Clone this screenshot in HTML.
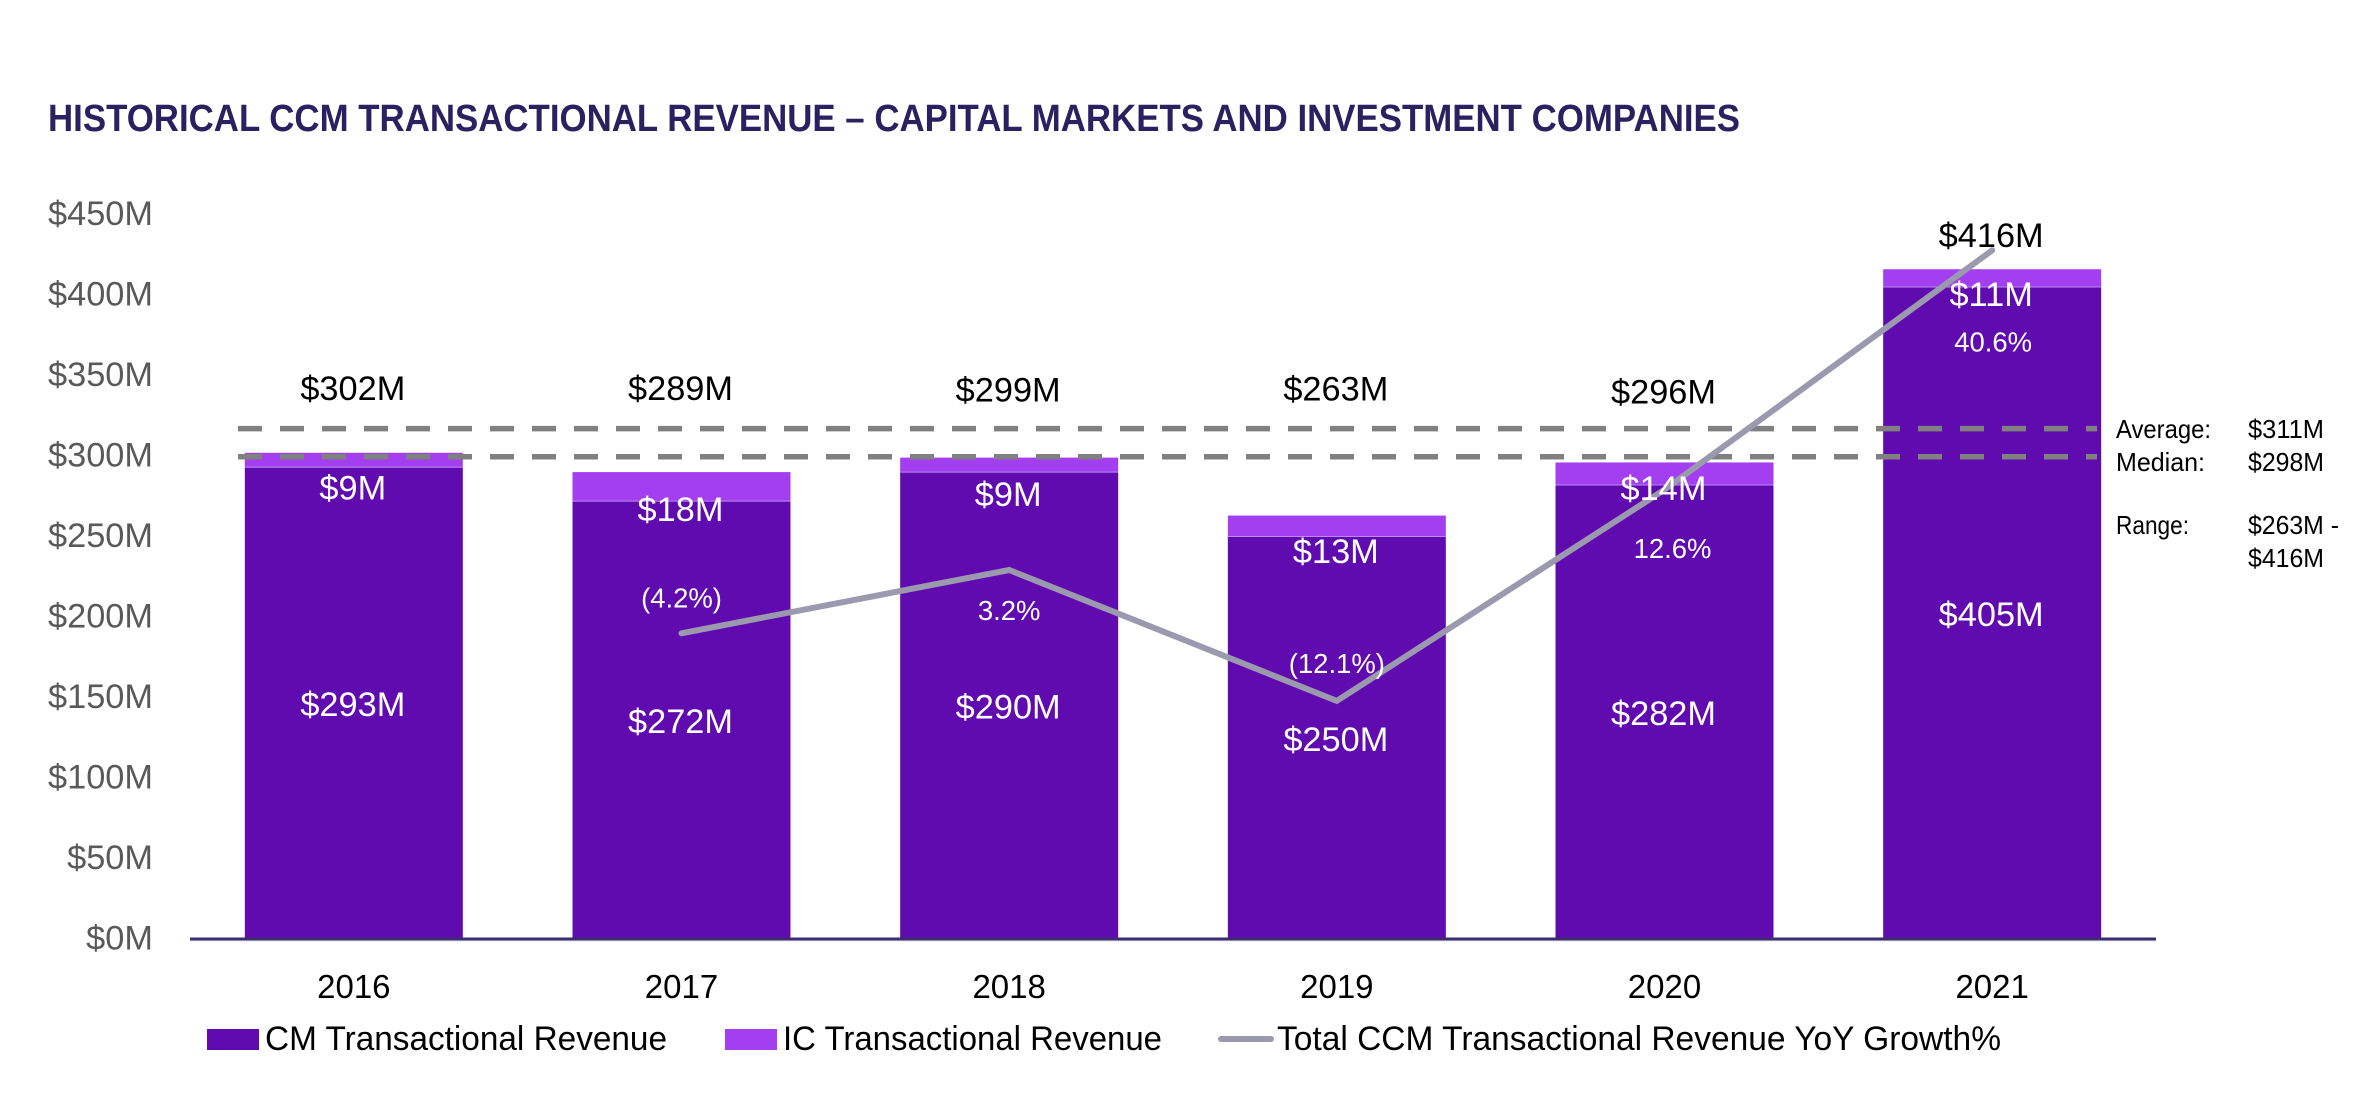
<!DOCTYPE html>
<html lang="en">
<head>
<meta charset="utf-8">
<title>Historical CCM Transactional Revenue</title>
<style>
html,body{margin:0;padding:0;background:#fff;width:2364px;height:1116px;overflow:hidden}
svg{display:block;font-family:"Liberation Sans",sans-serif}
</style>
</head>
<body>
<svg id="chart" xmlns="http://www.w3.org/2000/svg" width="2364" height="1116" viewBox="0 0 2364 1116">
  <rect x="0" y="0" width="2364" height="1116" fill="#ffffff"/>
  <text x="48" y="131" font-size="38" font-weight="700" fill="#2b2060" textLength="1692" lengthAdjust="spacingAndGlyphs">HISTORICAL CCM TRANSACTIONAL REVENUE – CAPITAL MARKETS AND INVESTMENT COMPANIES</text>
  <g id="marks"></g>
  <g font-size="26" fill="#000000">
    <text x="2116" y="438" textLength="95" lengthAdjust="spacingAndGlyphs">Average:</text>
    <text x="2248" y="438" textLength="76" lengthAdjust="spacingAndGlyphs">$311M</text>
    <text x="2116" y="471" textLength="89" lengthAdjust="spacingAndGlyphs">Median:</text>
    <text x="2248" y="471" textLength="76" lengthAdjust="spacingAndGlyphs">$298M</text>
    <text x="2116" y="534" textLength="73" lengthAdjust="spacingAndGlyphs">Range:</text>
    <text x="2248" y="534" textLength="91" lengthAdjust="spacingAndGlyphs">$263M -</text>
    <text x="2248" y="567" textLength="76" lengthAdjust="spacingAndGlyphs">$416M</text>
  </g>
  <g>
    <rect x="207" y="1029" width="52" height="21" fill="#600bb0"/>
    <text x="265" y="1050" font-size="34" fill="#000" textLength="402" lengthAdjust="spacingAndGlyphs">CM Transactional Revenue</text>
    <rect x="725" y="1029" width="52" height="21" fill="#a33ff0"/>
    <text x="783" y="1050" font-size="34" fill="#000" textLength="379" lengthAdjust="spacingAndGlyphs">IC Transactional Revenue</text>
    <line x1="1221" y1="1039" x2="1271" y2="1039" stroke="#9a99ae" stroke-width="6" stroke-linecap="round"/>
    <text x="1277" y="1050" font-size="34" fill="#000" textLength="724" lengthAdjust="spacingAndGlyphs">Total CCM Transactional Revenue YoY Growth%</text>
  </g>
</svg>
<script>
const years = ['2016', '2017', '2018', '2019', '2020', '2021'];
const cmRevenue = [293, 272, 290, 250, 282, 405];
const icRevenue = [9, 18, 9, 13, 14, 11];
const totalRevenue = [302, 289, 299, 263, 296, 416];
const yoyGrowth = [null, -4.2, 3.2, -12.1, 12.6, 40.6];
const yTicks = [0, 50, 100, 150, 200, 250, 300, 350, 400, 450];
const referenceLevels = [317, 299.5];

const NS = 'http://www.w3.org/2000/svg';
const marks = document.getElementById('marks');
const AX_LEFT = 190, AX_RIGHT = 2156, BASE = 939, PX_PER_M = 1.61;
const BAR_W = 218;
const GROWTH_ZERO = 597.4, PX_PER_PT = 8.55;

const xCenter = i => AX_LEFT + (AX_RIGHT - AX_LEFT) / years.length * (i + 0.5);
const yRev = v => BASE - v * PX_PER_M;
const yGrowth = v => GROWTH_ZERO - v * PX_PER_PT;
const money = v => '$' + v + 'M';
const pct = v => v < 0 ? '(' + Math.abs(v).toFixed(1) + '%)' : v.toFixed(1) + '%';

// hand-placed label nudges seen in the source slide
const icLabelNudge = [32, 20, 34, 26.5, 15, 19];
const totalLabelNudge = [-53, -72, -56, -115, -59, -22];
const growthLabelNudge = [0, -26, 50, -28, 68.5, 101];
const growthLabelShift = [0, 0, 0, 0, 8, 1];

function make(tag, props, parent) {
  const el = document.createElementNS(NS, tag);
  for (const k in props) el.setAttribute(k, props[k]);
  (parent || marks).appendChild(el);
  return el;
}
function label(str, x, y, size, fill, anchor, stretch) {
  const t = make('text', { x: x, y: y, 'font-size': size, fill: fill, 'text-anchor': anchor });
  t.textContent = str;
  const w = t.getComputedTextLength();
  t.setAttribute('textLength', (w * stretch).toFixed(1));
  t.setAttribute('lengthAdjust', 'spacingAndGlyphs');
  return t;
}

// y-axis tick labels
yTicks.forEach(v => {
  const t = label(money(v), 153, yRev(v) + 10.5, 34, '#595959', 'end', 1.01);
  
  
});

// stacked bars
years.forEach((yr, i) => {
  const x = xCenter(i) - BAR_W / 2;
  const cmTop = yRev(cmRevenue[i]);
  const icTop = yRev(cmRevenue[i] + icRevenue[i]);
  const cm = make('rect', { x: x, y: cmTop, width: BAR_W, height: BASE - cmTop, fill: '#600bb0' });
  
  
  const ic = make('rect', { x: x, y: icTop, width: BAR_W, height: cmTop - icTop, fill: '#a33ff0' });
  
  
  const sep = make('line', { x1: x, x2: x + BAR_W, y1: cmTop, y2: cmTop, stroke: '#b98af0', 'stroke-width': 1 });
  
  
});

// x axis
const axis = make('line', { x1: AX_LEFT, x2: AX_RIGHT, y1: BASE, y2: BASE, stroke: '#3b2e70', 'stroke-width': 3 });


const axisShade = make('line', { x1: AX_LEFT, x2: AX_RIGHT, y1: BASE + 2, y2: BASE + 2, stroke: '#e6e6ee', 'stroke-width': 1 });



years.forEach((yr, i) => {
  const t = label(yr, xCenter(i), 998, 33, '#000000', 'middle', 1.0);
  
  
});

// dashed reference lines
referenceLevels.forEach((v, i) => {
  const d = make('line', { x1: 238, x2: 2097, y1: yRev(v), y2: yRev(v), stroke: '#808080', 'stroke-width': 5.5, 'stroke-dasharray': '24 18' });
  
  
});

// YoY growth line
const pts = [];
yoyGrowth.forEach((v, i) => {
  if (v !== null) pts.push(xCenter(i).toFixed(1) + ',' + yGrowth(v).toFixed(1));
});
const growthLine = make('polyline', { points: pts.join(' '), fill: 'none', stroke: '#9a99ae', 'stroke-width': 6, 'stroke-linecap': 'round', 'stroke-linejoin': 'miter' });



// data labels
years.forEach((yr, i) => {
  const cmTop = yRev(cmRevenue[i]);
  const icTop = yRev(cmRevenue[i] + icRevenue[i]);
  const cx = xCenter(i);

  const total = label(money(totalRevenue[i]), cx - 1, icTop + totalLabelNudge[i], 34, '#000000', 'middle', 1.01);
  
  

  const cmLab = label(money(cmRevenue[i]), cx - 1, (cmTop + BASE) / 2 + 13, 34, '#ffffff', 'middle', 1.01);
  
  

  const icLab = label(money(icRevenue[i]), cx - 1, cmTop + icLabelNudge[i], 34, '#ffffff', 'middle', 1.01);
  
  

  if (yoyGrowth[i] !== null) {
    const g = label(pct(yoyGrowth[i]), cx + growthLabelShift[i], yGrowth(yoyGrowth[i]) + growthLabelNudge[i], 28, '#ffffff', 'middle', 0.98);
    
    
  }
});
</script>
</body>
</html>
